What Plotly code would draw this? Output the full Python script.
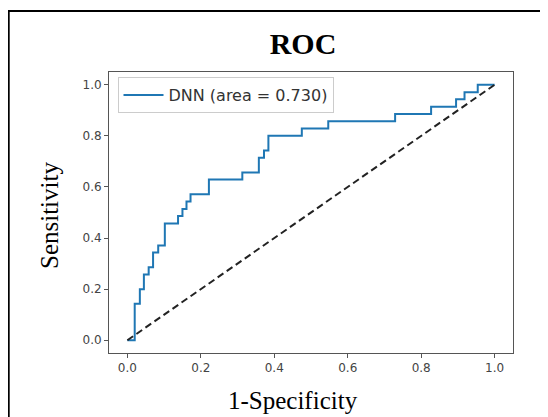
import plotly.graph_objects as go

# ROC curve data
fpr = [0.0, 0.020, 0.034, 0.045, 0.058, 0.070, 0.084, 0.102, 0.138, 0.150, 0.161, 0.172,
       0.222, 0.313, 0.358, 0.372, 0.384, 0.475, 0.547, 0.729, 0.827, 0.895, 0.918, 0.954, 1.0]
tpr = [0.0, 0.143, 0.200, 0.257, 0.286, 0.343, 0.371, 0.457, 0.486, 0.514, 0.543, 0.571,
       0.629, 0.657, 0.714, 0.743, 0.800, 0.829, 0.857, 0.886, 0.914, 0.943, 0.971, 1.000, 1.000]
chance_x = [0.0, 1.0]
chance_y = [0.0, 1.0]
auc_value = 0.730
tick_vals = [0.0, 0.2, 0.4, 0.6, 0.8, 1.0]
tick_text = ["0.0", "0.2", "0.4", "0.6", "0.8", "1.0"]

# the page body adds an 8px offset; work in absolute page pixels
OFF = 8
W, H = 548 - OFF, 417 - OFF
X0, X1, Y0, Y1 = 109, 513, 72, 353          # plot area in page pixels
ML, MT = X0 - OFF, Y0 - OFF
MR, MB = W - (X1 - OFF), H - (Y1 - OFF)
PW, PH = X1 - X0, Y1 - Y0


def px_x(p):
    return (p - X0) / PW


def px_y(p):
    return (Y1 - p) / PH


fig = go.Figure()
fig.add_trace(go.Scatter(
    x=fpr, y=tpr, mode="lines", line=dict(color="#1f77b4", width=2, shape="hv"),
    name=f"DNN (area = {auc_value:.3f})", showlegend=True,
))
fig.add_trace(go.Scatter(
    x=chance_x, y=chance_y, mode="lines",
    line=dict(color="#222222", width=2, dash="7px,4px"), showlegend=False,
))

axis_common = dict(
    range=[-0.05, 1.05], tickvals=tick_vals, ticktext=tick_text,
    showgrid=False, zeroline=False, showline=True, mirror=True,
    linecolor="#555555", linewidth=1, ticks="outside", ticklen=4,
    tickcolor="#555555", tickfont=dict(family="DejaVu Sans", size=12, color="#444444"),
)

fig.update_layout(
    width=W, height=H,
    margin=dict(l=ML, r=MR, t=MT, b=MB),
    paper_bgcolor="white", plot_bgcolor="white",
    xaxis=axis_common, yaxis=axis_common,
    title=dict(text="<b>ROC</b>", xref="container", yref="container",
               x=(303 - OFF) / W, y=1 - (43.5 - OFF) / H, xanchor="center", yanchor="middle",
               font=dict(family="Liberation Serif", size=30, color="black")),
    legend=dict(x=px_x(117.5), y=px_y(77), xanchor="left", yanchor="top",
                bgcolor="white", bordercolor="#cccccc", borderwidth=1,
                font=dict(family="DejaVu Sans", size=16, color="#333333"),
                itemwidth=40),
    annotations=[
        dict(text="Sensitivity", xref="paper", yref="paper", x=px_x(49), y=px_y(216),
             textangle=-90, showarrow=False, xanchor="center", yanchor="middle",
             font=dict(family="Liberation Serif", size=25, color="black")),
        dict(text="1-Specificity", xref="paper", yref="paper", x=px_x(293), y=px_y(400),
             showarrow=False, xanchor="center", yanchor="middle",
             font=dict(family="Liberation Serif", size=25, color="black")),
    ],
    shapes=[
        dict(type="line", xref="paper", yref="paper", x0=px_x(8.7), x1=px_x(8.7),
             y0=px_y(10), y1=px_y(420), line=dict(color="black", width=2)),
        dict(type="line", xref="paper", yref="paper", x0=px_x(7.7), x1=px_x(550),
             y0=px_y(11), y1=px_y(11), line=dict(color="black", width=2)),
    ],
    showlegend=True,
)

fig.write_html("out.html")
